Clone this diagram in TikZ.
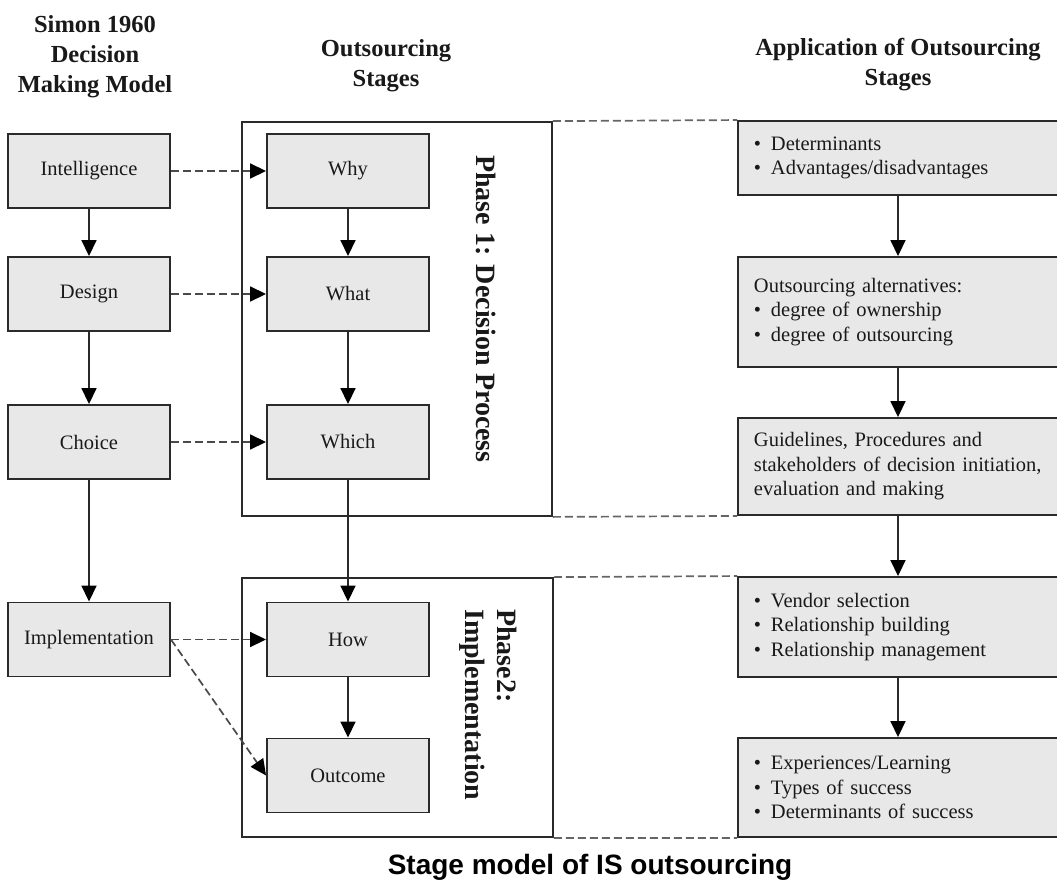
\documentclass[tikz,border=0pt]{standalone}
\usepackage{fontspec}
\setmainfont{Liberation Serif}
\newfontfamily\titlefont{Liberation Sans}
\usetikzlibrary{arrows.meta}
\definecolor{boxfill}{HTML}{E8E8E8}
\definecolor{boxline}{HTML}{2A2A2A}
\definecolor{dashgray}{HTML}{4A4A4A}
\newcommand{\appbullet}{\makebox[17pt][l]{\textbullet}}

\begin{document}
\begin{tikzpicture}[x=1pt,y=-1pt,
  every node/.style={font=\fontsize{20.5}{24.5}\selectfont, text=black!90},
  stagebox/.style={draw=boxline, fill=boxfill, line width=1.9pt,
    minimum width=162pt, minimum height=74pt, inner sep=0pt},
  appbox/.style={draw=boxline, fill=boxfill, line width=1.9pt, anchor=west,
    text width=308pt, align=left, inner xsep=16pt, inner ysep=0pt},
  phaseframe/.style={draw=boxline, line width=1.8pt, inner sep=0pt},
  flow/.style={line width=1.7pt, draw=boxline,
    -{Triangle[length=16pt,width=15pt,color=black]}},
  link/.style={line width=1.7pt, draw=dashgray, dash pattern=on 8pt off 4pt,
    -{Triangle[length=16pt,width=15pt,color=black]}},
  bridge/.style={line width=1.7pt, draw=dashgray!85, dash pattern=on 8pt off 4pt},
  head/.style={font=\fontsize{24.5}{30}\selectfont\bfseries, align=center,
    anchor=north, inner sep=0pt},
  phaselabel/.style={font=\fontsize{28}{32}\selectfont\bfseries, rotate=-90,
    inner sep=0pt},
]
\useasboundingbox (0,0) rectangle (1057,888);
\clip (0,0) rectangle (1057,888);

% column headings
\node[head] (hsimon) at (95,15) {Simon 1960\\Decision\\Making Model};
\node[head] (hstages) at (386,39) {Outsourcing\\Stages};
\node[head] (happ) at (898,38) {Application of Outsourcing\\Stages};

% phase frames
\node[phaseframe, minimum width=310pt, minimum height=394pt] (ph1) at (397,319) {};
\node[phaseframe, minimum width=311pt, minimum height=259pt] (ph2) at (397.5,707.5) {};
\node[phaselabel] (p1lab) at (486,309) {Phase 1: Decision Process};
\node[phaselabel, align=left, anchor=north west] (p2lab) at (517,609) {Phase2:\\Implementation};

% Simon's decision making model
\node[stagebox] (intel)  at (89,171)   {Intelligence};
\node[stagebox] (design) at (89,294)   {Design};
\node[stagebox] (choice) at (89,442)   {Choice};
\node[stagebox] (impl)   at (89,639.5) {Implementation};

% outsourcing stages
\node[stagebox] (why)     at (348,171)   {Why};
\node[stagebox] (what)    at (348,294)   {What};
\node[stagebox] (which)   at (348,442)   {Which};
\node[stagebox] (how)     at (348,639.5) {How};
\node[stagebox] (outcome) at (348,775.5) {Outcome};

% application of the stages
\node[appbox, minimum height=74pt]  (r1) at (737,158)
  {\appbullet Determinants\\\appbullet Advantages/disadvantages};
\node[appbox, minimum height=110pt] (r2) at (737,312)
  {Outsourcing alternatives:\\\appbullet degree of ownership\\\appbullet degree of outsourcing};
\node[appbox, minimum height=97pt]  (r3) at (737,466.5)
  {Guidelines, Procedures and\\stakeholders of decision initiation,\\evaluation and making};
\node[appbox, minimum height=100pt] (r4) at (737,627)
  {\appbullet Vendor selection\\\appbullet Relationship building\\\appbullet Relationship management};
\node[appbox, minimum height=99pt]  (r5) at (737,787.5)
  {\appbullet Experiences/Learning\\\appbullet Types of success\\\appbullet Determinants of success};
\coordinate (rcol) at (898,0);

% title
\node[font=\titlefont\fontsize{28}{32}\selectfont\bfseries, text=black] (title) at (590,867)
  {Stage model of IS outsourcing};

% solid flow arrows
\draw[flow] (intel) -- (design);
\draw[flow] (design) -- (choice);
\draw[flow] (choice) -- (impl);
\draw[flow] (why) -- (what);
\draw[flow] (what) -- (which);
\draw[flow] (which) -- (how);
\draw[flow] (how) -- (outcome);
\draw[flow] (r1.south -| rcol) -- (r2.north -| rcol);
\draw[flow] (r2.south -| rcol) -- (r3.north -| rcol);
\draw[flow] (r3.south -| rcol) -- (r4.north -| rcol);
\draw[flow] (r4.south -| rcol) -- (r5.north -| rcol);

% dashed correspondences
\draw[link] (intel) -- (why);
\draw[link] (design) -- (what);
\draw[link] (choice) -- (which);
\draw[link] (impl) -- (how);
\draw[link] (impl.east) -- (outcome.west);

% dashed bridges from the phase frames
\draw[bridge] (ph1.north east) -- (r1.north west);
\draw[bridge] (ph1.south east) -- (r3.south west);
\draw[bridge] (ph2.north east) -- (r4.north west);
\draw[bridge] (ph2.south east) -- (r5.south west);
\end{tikzpicture}
\end{document}
